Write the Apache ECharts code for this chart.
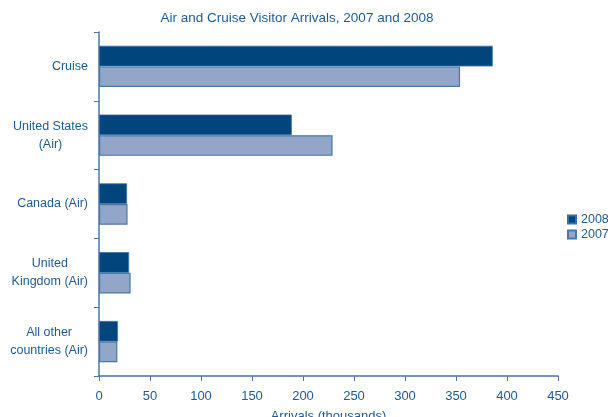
<!DOCTYPE html>
<html><head><meta charset="utf-8">
<script src="https://cdn.jsdelivr.net/npm/echarts@6/dist/echarts.min.js"></script>
<style>html,body{margin:0;padding:0;background:#fff}#c{width:608px;height:417px}</style>
</head><body><div id="c"></div>
<script>
const categories = ["Cruise", "United States\n(Air)", "Canada (Air)", "United\nKingdom (Air)", "All other\ncountries (Air)"];
const values2008 = [386, 189, 27.5, 29.5, 18.5];
const values2007 = [354, 229, 28, 31, 18];
const xTicks = { min: 0, max: 450, interval: 50 };
const txt = '#1f5a96';
const fontFam = 'Liberation Sans';
const yFont = 12.5;
// measure label block width so lines are centred within a right-aligned block
const ctx = document.createElement('canvas').getContext('2d');
ctx.font = yFont + 'px "' + fontFam + '"';
const yData = categories.map(c => {
  const w = Math.max(...c.split('\n').map(l => ctx.measureText(l).width));
  return { value: c, textStyle: { align: 'center', padding: [0, w, 0, 0] } };
});
const chart = echarts.init(document.getElementById('c'));
chart.setOption({
  animation: false,
  title: { text: 'Air and Cruise Visitor Arrivals, 2007 and 2008', left: 292, top: 6, textAlign: 'center',
    textStyle: { color: '#1f5a96', fontSize: 13.5, fontWeight: 'normal', fontFamily: fontFam } },
  legend: { orient: 'vertical', left: 567, top: 213, padding: 0, itemWidth: 8, itemHeight: 8, itemGap: 2, icon: 'rect',
    textStyle: { color: txt, fontSize: 12.5, fontFamily: fontFam },
    data: ['2008', '2007'] },
  grid: { left: 99, right: 50, top: 32, bottom: 41, containLabel: false, outerBoundsMode: 'none' },
  xAxis: { type: 'value', min: xTicks.min, max: xTicks.max, interval: xTicks.interval,
    name: 'Arrivals (thousands)', nameLocation: 'middle', nameGap: 34, nameMoveOverlap: false,
    nameTextStyle: { color: txt, fontSize: 13, fontFamily: fontFam },
    axisLine: { show: true, lineStyle: { color: '#4a76a8', width: 1.5 } },
    axisTick: { show: true, length: 5, lineStyle: { color: '#4a76a8' } },
    axisLabel: { color: txt, fontSize: 13, fontFamily: fontFam, margin: 14 },
    splitLine: { show: false } },
  yAxis: { type: 'category', data: yData, inverse: true,
    axisLine: { show: true, lineStyle: { color: '#4a76a8', width: 1.5 } },
    axisTick: { show: true, length: 5, lineStyle: { color: '#4a76a8' } },
    axisLabel: { color: txt, fontSize: yFont, fontFamily: fontFam, margin: 11, lineHeight: 18 },
  },
  series: [
    { name: '2008', type: 'bar', data: values2008, barGap: '0%', barCategoryGap: '40%',
      itemStyle: { color: '#00457c', borderColor: '#3a6ea5', borderWidth: 0.8 } },
    { name: '2007', type: 'bar', data: values2007,
      itemStyle: { color: '#94a6c8', borderColor: '#4a76a8', borderWidth: 1.2 } }
  ]
});
</script></body></html>
